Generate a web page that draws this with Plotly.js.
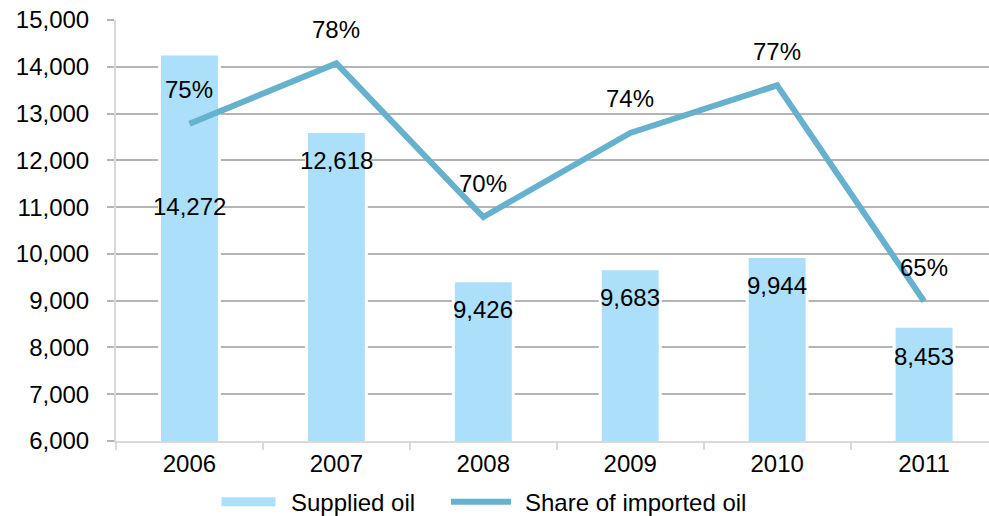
<!DOCTYPE html>
<html><head><meta charset="utf-8">
<script src="https://cdn.plot.ly/plotly-3.0.1.min.js"></script>
<style>html,body{margin:0;padding:0;background:#fff}#chart{width:989px;height:516px}</style>
</head><body><div id="chart"></div>
<script>
// ---- data ----
const years = ['2006', '2007', '2008', '2009', '2010', '2011'];
const suppliedOil = [14272, 12618, 9426, 9683, 9944, 8453];
const importShare = [0.747, 0.780, 0.696, 0.742, 0.768, 0.650];

// ---- label placement (px offsets, not data) ----
const supplyLabelShift = [-152, -29, -29, -29, -29, -30];
const shareLabelShift = 34;

const FONT = 'Liberation Sans, Arial, sans-serif';

const traces = [
  {
    type: 'bar', name: 'Supplied oil', x: years, y: suppliedOil,
    width: 0.408,
    marker: { color: '#acdff9', line: { color: '#ffffff', width: 3 } }
  },
  {
    type: 'scatter', mode: 'lines', name: 'Share of imported oil',
    x: years, y: importShare, yaxis: 'y2',
    line: { color: '#66b1ce', width: 6 }
  }
];

const annotations = [];
years.forEach((yr, i) => {
  annotations.push({
    x: i, y: suppliedOil[i], xref: 'x', yref: 'y',
    text: suppliedOil[i].toLocaleString('en-US'),
    showarrow: false, yshift: supplyLabelShift[i],
    font: { family: FONT, size: 24, color: '#000' }
  });
  annotations.push({
    x: i, y: importShare[i], xref: 'x', yref: 'y2',
    text: Math.round(importShare[i] * 100) + '%',
    showarrow: false, yshift: shareLabelShift,
    font: { family: FONT, size: 24, color: '#000' }
  });
});

const layout = {
  width: 989, height: 516,
  margin: { l: 116, r: 0, t: 20, b: 75, pad: 0, autoexpand: false },
  paper_bgcolor: '#ffffff', plot_bgcolor: '#ffffff',
  font: { family: FONT, size: 24, color: '#000' },
  showlegend: true,
  legend: {
    orientation: 'h', x: 0.118, xanchor: 'left', y: -0.145, yanchor: 'middle',
    font: { family: FONT, size: 24, color: '#000' }, itemwidth: 61,
    traceorder: 'normal'
  },
  xaxis: {
    type: 'category', range: [-0.5, 5.442], tickson: 'boundaries',
    ticks: 'outside', ticklen: 7, tickwidth: 2, tickcolor: '#d9d9d9',
    showline: true, linecolor: '#d9d9d9', linewidth: 2, showgrid: false,
    tickfont: { family: FONT, size: 24, color: '#000' }
  },
  yaxis: {
    range: [6000, 15000], tick0: 6000, dtick: 1000, tickformat: ',d',
    ticks: 'outside', ticklen: 7, tickwidth: 2, tickcolor: '#b4b4b4',
    showline: true, linecolor: '#d9d9d9', linewidth: 2,
    showgrid: true, gridcolor: '#b4b4b4', gridwidth: 2, zeroline: false,
    ticklabelstandoff: 13,
    tickfont: { family: FONT, size: 24, color: '#000' }
  },
  yaxis2: {
    overlaying: 'y', side: 'right', range: [0.5736, 0.8037], visible: false
  },
  annotations: annotations
};

// desired left edge of each legend label (px, page coords)
const legendTextLeft = [291, 525];

Plotly.newPlot('chart', traces, layout, { staticPlot: true }).then(gd => {
  const legend = gd.querySelector('.legend');
  if (legend) {
    legend.querySelectorAll('[clip-path]').forEach(el => el.removeAttribute('clip-path'));
  }
  const items = gd.querySelectorAll('.legend .traces');
  if (items[0]) {
    items[0].querySelectorAll('.legendpoints path').forEach(p => {
      p.setAttribute('d', 'M0,-6h57v12h-57Z');
      p.removeAttribute('transform');
    });
  }
  if (items[1]) {
    items[1].querySelectorAll('.legendlines path').forEach(p => {
      p.setAttribute('d', 'M-3,0h60');
      p.style.strokeWidth = '6px';
    });
  }
  // position legend entries like the reference
  items.forEach((it, k) => {
    const txt = it.querySelector('text.legendtext');
    if (!txt || legendTextLeft[k] === undefined) return;
    const dx = legendTextLeft[k] - txt.getBoundingClientRect().left;
    const tr = it.getAttribute('transform') || '';
    const m = tr.match(/translate\(\s*([-\d.]+)[ ,]+([-\d.]+)\s*\)/);
    const x0 = m ? parseFloat(m[1]) : 0;
    const y0 = m ? parseFloat(m[2]) : 0;
    it.setAttribute('transform', 'translate(' + (x0 + dx) + ',' + y0 + ')');
  });
});
</script>
</body></html>
